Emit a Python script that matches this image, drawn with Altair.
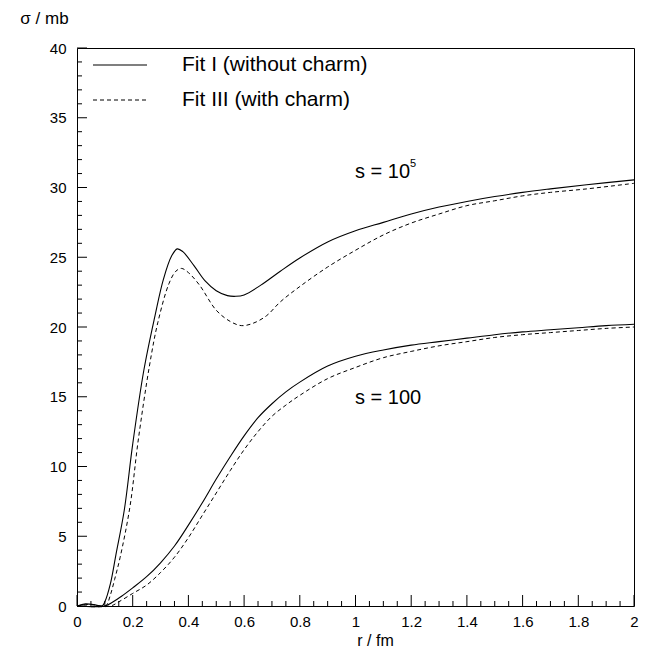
import altair as alt
import pandas as pd

# ---- data ----
r_fit1_hi = [0, 0.03, 0.06, 0.09, 0.1, 0.12, 0.14, 0.17, 0.2, 0.24, 0.28, 0.31, 0.34, 0.36, 0.38,
             0.42, 0.46, 0.5, 0.54, 0.57, 0.6, 0.66, 0.73, 0.8, 0.9, 1.0, 1.1, 1.2, 1.3, 1.4,
             1.5, 1.6, 1.7, 1.83, 2.0]
s_fit1_hi = [0, 0.15, 0.1, 0.0, 0.3, 1.6, 3.7, 6.9, 11.6, 16.9, 20.8, 23.4, 25.1, 25.6, 25.4,
             24.4, 23.3, 22.6, 22.25, 22.2, 22.3, 23.0, 24.0, 24.95, 26.1, 26.9, 27.5, 28.1, 28.6, 29.0,
             29.35, 29.65, 29.9, 30.2, 30.55]

r_fit3_hi = [0, 0.03, 0.06, 0.09, 0.105, 0.12, 0.135, 0.155, 0.19, 0.22, 0.26, 0.29, 0.33, 0.355, 0.375,
             0.4, 0.44, 0.5, 0.55, 0.59, 0.63, 0.68, 0.73, 0.8, 0.9, 1.0, 1.1, 1.2, 1.3, 1.4,
             1.5, 1.6, 1.7, 1.83, 2.0]
s_fit3_hi = [0, 0.1, 0.08, 0.0, 0.05, 0.8, 1.9, 3.5, 7.1, 11.9, 17.2, 20.3, 23.1, 24.0, 24.2,
             23.9, 23.0, 21.2, 20.4, 20.1, 20.25, 20.8, 21.8, 22.9, 24.3, 25.5, 26.6, 27.45, 28.1, 28.7,
             29.05, 29.4, 29.65, 29.9, 30.3]

r_fit1_lo = [0, 0.1, 0.13, 0.16, 0.2, 0.25, 0.3, 0.35, 0.4, 0.45, 0.5, 0.55, 0.6, 0.65, 0.7,
             0.75, 0.8, 0.9, 1.0, 1.1, 1.2, 1.3, 1.4, 1.5, 1.6, 1.7, 1.8, 1.9, 2.0]
s_fit1_lo = [0, 0, 0.3, 0.7, 1.3, 2.1, 3.1, 4.3, 5.8, 7.4, 9.1, 10.7, 12.2, 13.5, 14.5,
             15.35, 16.05, 17.2, 17.9, 18.35, 18.7, 18.95, 19.2, 19.45, 19.65, 19.8, 19.95, 20.1, 20.2]

r_fit3_lo = [0, 0.12, 0.15, 0.2, 0.25, 0.3, 0.35, 0.4, 0.45, 0.5, 0.55, 0.6, 0.65, 0.7,
             0.75, 0.8, 0.9, 1.0, 1.1, 1.2, 1.3, 1.4, 1.5, 1.6, 1.7, 1.8, 1.9, 2.0]
s_fit3_lo = [0, 0, 0.3, 0.9, 1.5, 2.4, 3.5, 4.9, 6.5, 8.1, 9.7, 11.2, 12.5, 13.6,
             14.4, 15.1, 16.3, 17.1, 17.8, 18.25, 18.65, 18.95, 19.25, 19.45, 19.6, 19.75, 19.9, 20.0]

x_labels = [0, 0.2, 0.4, 0.6, 0.8, 1, 1.2, 1.4, 1.6, 1.8, 2]
y_labels = [0, 5, 10, 15, 20, 25, 30, 35, 40]
x_minor = [round(i * 0.05, 2) for i in range(41) if i % 4 != 0]
y_minor = [i for i in range(41) if i % 5 != 0]

legend_labels = ["Fit I (without charm)", "Fit III (with charm)"]
FONT = "Liberation Sans"
W, H = 557, 558

def series(rs, ss, fit, energy):
    return pd.DataFrame({"r": rs, "sigma": ss, "fit": fit, "s": energy})

df = pd.concat([
    series(r_fit1_hi, s_fit1_hi, "I", "1e5"),
    series(r_fit3_hi, s_fit3_hi, "III", "1e5"),
    series(r_fit1_lo, s_fit1_lo, "I", "100"),
    series(r_fit3_lo, s_fit3_lo, "III", "100"),
], ignore_index=True)

xs = alt.Scale(domain=[0, 2], nice=False, zero=False)
ys = alt.Scale(domain=[0, 40], nice=False, zero=False)

x_axis = alt.Axis(
    values=x_labels, format="~g", title="r / fm", grid=False, domain=False, ticks=False, tickSize=0,
    labelFont=FONT, labelFontSize=15, labelColor="black", labelPadding=8, labelFlush=False,
    titleFont=FONT, titleFontSize=16, titleFontWeight="normal", titleColor="black",
    titleX=298, titleY=34, titleBaseline="middle", titleAlign="center")
y_axis = alt.Axis(
    values=y_labels, format="d", title="σ / mb", grid=False, domain=False, ticks=False, tickSize=0,
    labelFont=FONT, labelFontSize=15, labelColor="black", labelPadding=11, labelFlush=False,
    titleFont=FONT, titleFontSize=17, titleFontWeight="normal", titleColor="black",
    titleAngle=0, titleX=-33, titleY=-30, titleAlign="center", titleBaseline="middle")

def X(field):
    return alt.X(field, scale=xs, axis=x_axis, title="r / fm")

def Y(field):
    return alt.Y(field, scale=ys, axis=y_axis, title="σ / mb")

solid = alt.Chart(df[df.fit == "I"]).mark_line(
    color="black", strokeWidth=1.1, interpolate="catmull-rom"
).encode(x=X("r:Q"), y=Y("sigma:Q"), detail="s:N")

dashed = alt.Chart(df[df.fit == "III"]).mark_line(
    color="black", strokeWidth=1, strokeDash=[4, 3], interpolate="catmull-rom"
).encode(x=X("r:Q"), y=Y("sigma:Q"), detail="s:N")

# inward ticks
ymaj = alt.Chart(pd.DataFrame({"v": y_labels})).mark_rule(color="black", strokeWidth=1).encode(
    y=Y("v:Q"), x=alt.value(0), x2=alt.value(10))
ymin = alt.Chart(pd.DataFrame({"v": y_minor})).mark_rule(color="black", strokeWidth=1).encode(
    y=Y("v:Q"), x=alt.value(0), x2=alt.value(5))
xmaj = alt.Chart(pd.DataFrame({"v": x_labels})).mark_rule(color="black", strokeWidth=1).encode(
    x=X("v:Q"), y=alt.value(H), y2=alt.value(H - 11))
xmin = alt.Chart(pd.DataFrame({"v": x_minor})).mark_rule(color="black", strokeWidth=1).encode(
    x=X("v:Q"), y=alt.value(H), y2=alt.value(H - 5))

# legend
leg_solid = alt.Chart(pd.DataFrame({"k": [0]})).mark_rule(color="black", strokeWidth=1.1).encode(
    x=alt.value(16), x2=alt.value(70), y=alt.value(17))
leg_dash = alt.Chart(pd.DataFrame({"k": [0]})).mark_rule(color="black", strokeWidth=1, strokeDash=[4, 3]).encode(
    x=alt.value(16), x2=alt.value(70), y=alt.value(52))
leg_t1 = alt.Chart(pd.DataFrame({"t": [legend_labels[0]]})).mark_text(
    font=FONT, fontSize=21, align="left", baseline="middle", color="black").encode(
    x=alt.value(105), y=alt.value(17), text="t:N")
leg_t2 = alt.Chart(pd.DataFrame({"t": [legend_labels[1]]})).mark_text(
    font=FONT, fontSize=21, align="left", baseline="middle", color="black").encode(
    x=alt.value(105), y=alt.value(52), text="t:N")

# curve annotations
ann_hi = alt.Chart(pd.DataFrame({"t": ["s = 10"]})).mark_text(
    font=FONT, fontSize=20, align="left", baseline="middle", color="black").encode(
    x=alt.value(278), y=alt.value(124), text="t:N")
ann_sup = alt.Chart(pd.DataFrame({"t": ["5"]})).mark_text(
    font=FONT, fontSize=11, align="left", baseline="middle", color="black").encode(
    x=alt.value(333), y=alt.value(116), text="t:N")
ann_lo = alt.Chart(pd.DataFrame({"t": ["s = 100"]})).mark_text(
    font=FONT, fontSize=20, align="left", baseline="middle", color="black").encode(
    x=alt.value(278), y=alt.value(350), text="t:N")

chart = alt.layer(
    solid, dashed, ymaj, ymin, xmaj, xmin,
    leg_solid, leg_dash, leg_t1, leg_t2, ann_hi, ann_sup, ann_lo
).properties(
    width=W, height=H,
    autosize=alt.AutoSizeParams(type="none"),
    padding={"left": 69, "top": 40, "right": 12, "bottom": 46},
    background="white",
).configure_view(stroke="black", strokeWidth=1)

chart.save("out.html", embed_options={"renderer": "svg", "actions": False})
